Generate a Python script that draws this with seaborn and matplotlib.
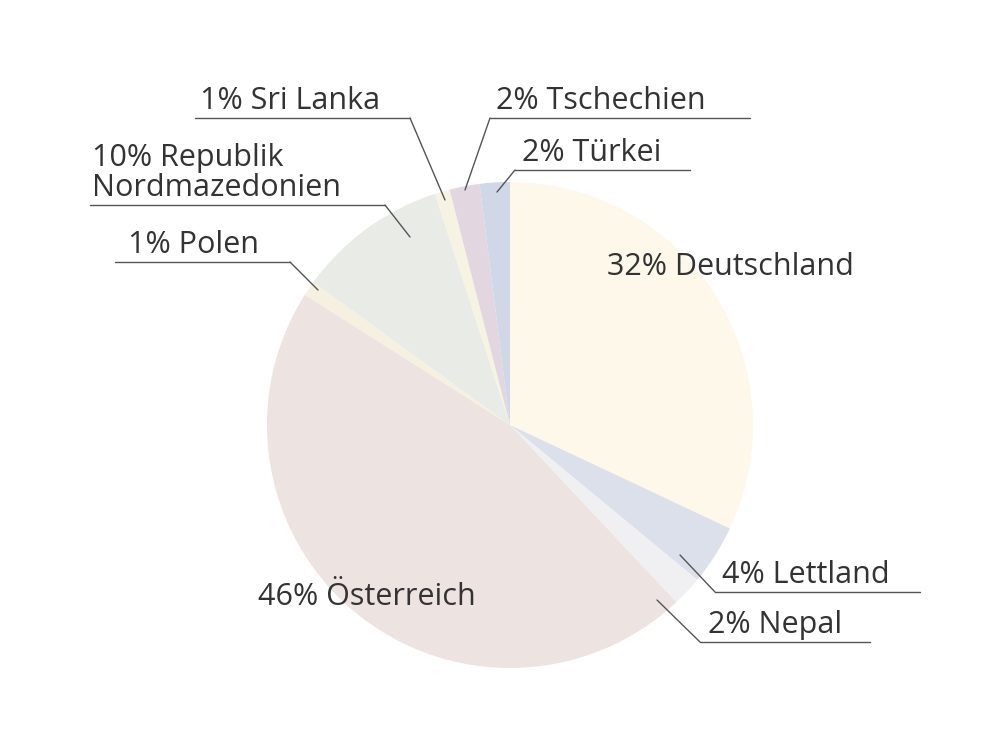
import matplotlib
matplotlib.use("Agg")
import matplotlib.pyplot as plt
import seaborn as sns

countries = ["Deutschland", "Lettland", "Nepal", "Österreich", "Polen",
             "Republik\nNordmazedonien", "Sri Lanka", "Tschechien", "Türkei"]
shares = [32, 4, 2, 46, 1, 10, 1, 2, 2]
colors = ["#fdf8ea", "#dce0ea", "#f0f0f3", "#ede3e1", "#f5f0df",
          "#e9ebe6", "#f6f3e3", "#e2d6e0", "#d0d7e7"]

sns.set_style("white")
fig = plt.figure(figsize=(9.98, 7.48), dpi=100)
ax = fig.add_axes([0, 0, 1, 1])

ax.pie(shares, colors=colors, center=(510, 425), radius=243,
       startangle=-90, counterclock=True, frame=True,
       wedgeprops=dict(linewidth=0))
ax.set_xlim(0, 998)
ax.set_ylim(748, 0)
ax.set_aspect("equal")
ax.axis("off")

txt = "#333333"
fs = 22
font = "Open Sans"
labels = [
    (f"{shares[0]}% {countries[0]}", 730, 267, None, None, None, None),
    (f"{shares[1]}% {countries[1]}", 722, 578, 592, 715, 920, (680, 555)),
    (f"{shares[2]}% {countries[2]}", 708, 626, 642, 700, 870, (657, 600)),
    (f"{shares[3]}% {countries[3]}", 367, 597, None, None, None, None),
    (f"{shares[4]}% {countries[4]}", 128, 244, 262, 115, 290, (318, 290)),
    (f"{shares[5]}% {countries[5]}", 92, 170, 205, 90, 385, (410, 237)),
    (f"{shares[6]}% {countries[6]}", 200, 102, 118, 195, 410, (445, 200)),
    (f"{shares[7]}% {countries[7]}", 496, 99, 118, 490, 750, (465, 190)),
    (f"{shares[8]}% {countries[8]}", 522, 152, 170, 515, 690, (497, 192)),
]
for text, tx, ty, uy, x0, x1, end in labels:
    if uy is None:
        ax.text(tx, ty, text, fontsize=fs, family=font, color=txt,
                ha="center", va="center")
        continue
    ax.text(tx, uy - 2, text, fontsize=fs, family=font, color=txt,
            ha="left", va="bottom", linespacing=1.0)
    ax.plot([x0, x1], [uy, uy], color="#555555", lw=1)
    sx = x0 if abs(x0 - 510) < abs(x1 - 510) else x1
    if end[0] > 510 and x0 > 510:
        sx = x0
    ax.plot([sx, end[0]], [uy, end[1]], color="#555555", lw=1)

fig.savefig("out.png", dpi=100, facecolor="white")
